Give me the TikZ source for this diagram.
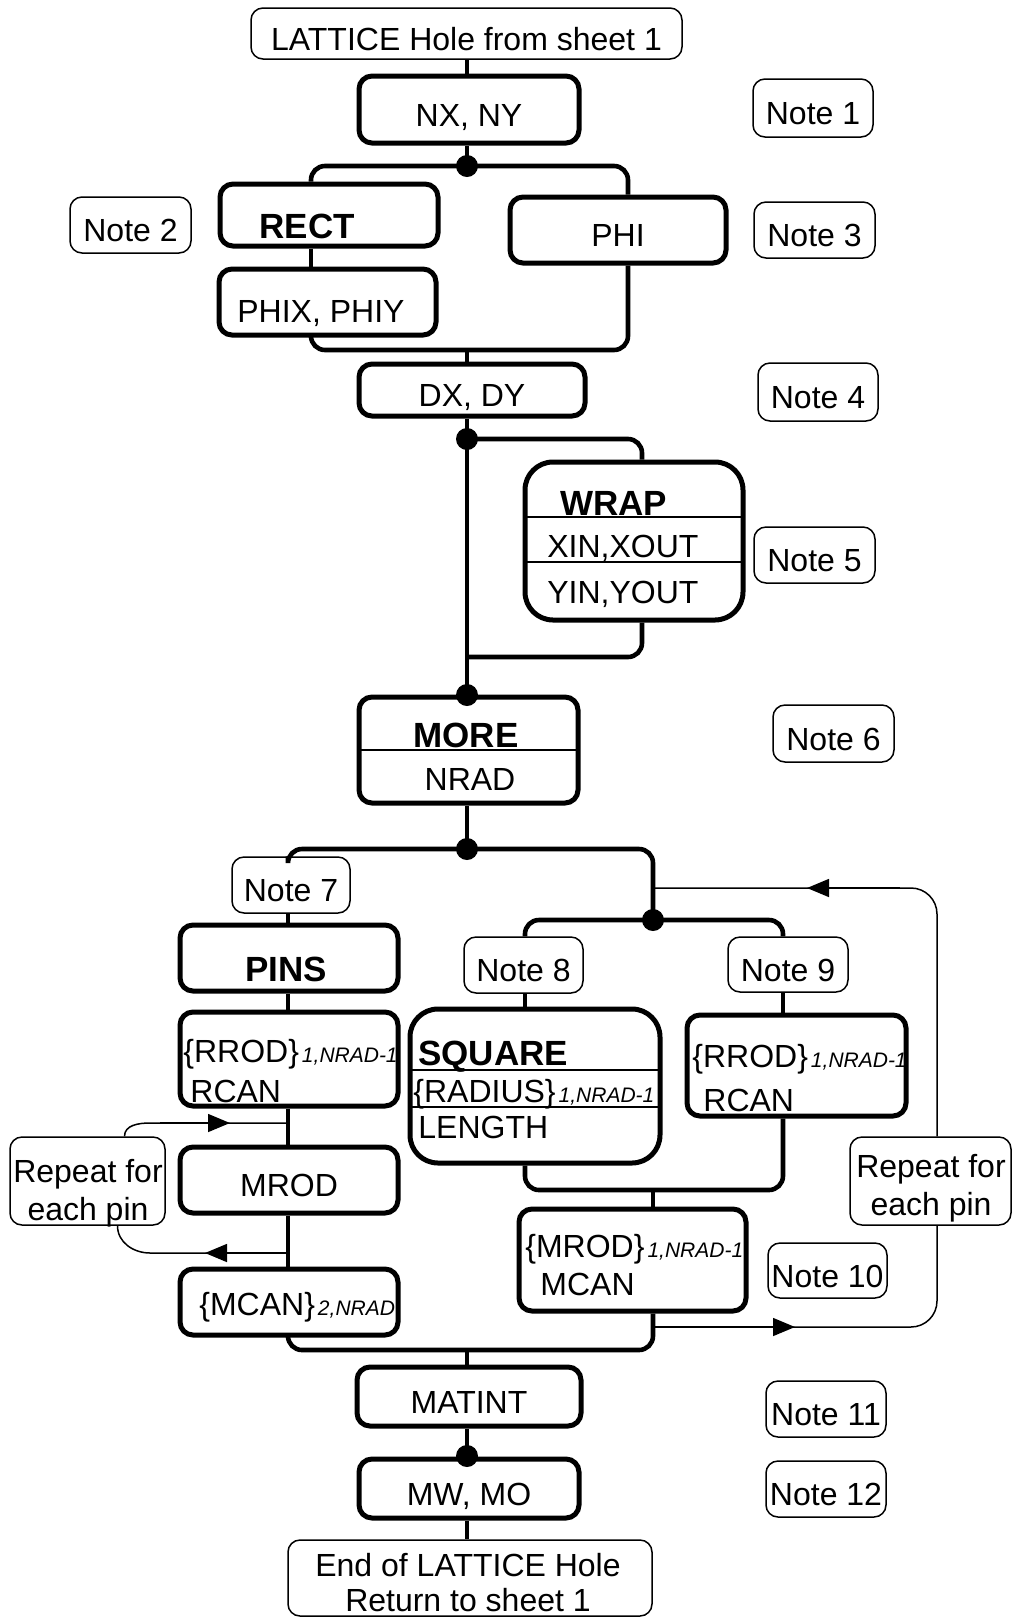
\documentclass[tikz,border=0pt]{standalone}
\usepackage{fontspec}
\setmainfont{Liberation Sans}
\usetikzlibrary{positioning, arrows.meta, calc}

\newcommand{\subtag}[1]{\kern1.5pt{\fontsize{10.5pt}{12pt}\selectfont\itshape #1}}

\begin{document}
\begin{tikzpicture}[
                x=0.5pt, y=-0.5pt,
                font=\fontsize{16pt}{19pt}\selectfont,
                blk/.style={draw, line width=2.5pt, rounded corners=6.5pt, inner sep=0pt, text height=16.5pt, text depth=0pt},
                bigblk/.style={blk, rounded corners=14pt},
                note/.style={draw, line width=0.75pt, rounded corners=6pt, inner sep=0pt, text height=16.5pt, text depth=0pt},
                txt/.style={inner sep=0pt, anchor=base west},
                two/.style={inner sep=0pt, align=center},
                hd/.style={inner sep=0pt, font=\fontsize{17.5pt}{20pt}\selectfont\bfseries},
                conn/.style={line width=2.3pt, rounded corners=7pt},
                sep/.style={line width=0.7pt},
                back/.style={line width=0.75pt},
                tip/.style={-{Triangle[length=11pt,width=9pt]}},
                dot/.style={circle, fill, inner sep=0pt, minimum size=11pt}
            ]
                \useasboundingbox (0,0) rectangle (1012,1619);

                % Columns and junctions
                \coordinate (cS) at (467,0);
                \coordinate (cA) at (311,0);
                \coordinate (cB) at (628,0);
                \coordinate (cW) at (642,0);
                \coordinate (cP) at (288,0);
                \coordinate (cQ) at (653,0);
                \coordinate (cR) at (525,0);
                \coordinate (cT) at (783,0);
                \coordinate (m1) at (467,350);
                \coordinate (m2) at (467,657);
                \coordinate (m3) at (653,1190);
                \coordinate (m4) at (467,1350);

                % Main column
                \node[note, minimum width=215.5pt, minimum height=25.5pt] (lattice) at (466.5,33.5) {LATTICE Hole from sheet 1};
                \node[blk, minimum width=110pt, minimum height=33.5pt] (nxny) at (469,109.5) {NX, NY};
                \node[blk, minimum width=109pt, minimum height=31pt] (rect) at (329,215) {};
                \node[hd, anchor=base west] (rectT) at (259,238) {RECT};
                \node[blk, minimum width=108.5pt, minimum height=33pt] (phix) at (327.5,302) {};
                \node[txt] (phixT) at (237,322) {PHIX, PHIY};
                \node[blk, minimum width=108pt, minimum height=33pt] (phi) at (618,230) {PHI};
                \node[blk, minimum width=113pt, minimum height=26pt] (dxdy) at (472,390) {DX, DY};

                \node[bigblk, minimum width=109pt, minimum height=79pt] (wrap) at (634,541) {};
                \node[hd, anchor=base west] (wrapT) at (560,515) {WRAP};
                \node[txt] (xin) at (547,557) {XIN,XOUT};
                \node[txt] (yin) at (547,603) {YIN,YOUT};
                \draw[sep] (525,517) -- (743,517);
                \draw[sep] (525,562) -- (743,562);

                \node[blk, minimum width=109.5pt, minimum height=53pt] (more) at (468.5,750) {};
                \node[hd, anchor=base] (moreT) at (466,747) {MORE};
                \node[inner sep=0pt, anchor=base] (nrad) at (470,790) {NRAD};
                \draw[sep] (359,750) -- (578,750);

                % Pins branch
                \node[note, minimum width=59pt, minimum height=28pt] (note7) at (291,885) {Note 7};
                \node[blk, minimum width=109pt, minimum height=33pt] (pins) at (289,958) {};
                \node[hd, anchor=base] (pinsT) at (286,981) {PINS};
                \node[blk, minimum width=109pt, minimum height=47pt] (rrod1) at (289,1059) {};
                \node[txt] (rrod1T) at (183,1062) {\{RROD\}\subtag{1,NRAD-1}};
                \node[txt] (rcan1) at (190,1102) {RCAN};
                \node[blk, minimum width=109pt, minimum height=33pt] (mrod1) at (289,1180) {MROD};
                \node[blk, minimum width=109pt, minimum height=33pt] (mcan1) at (289,1302) {};
                \node[txt] (mcan1T) at (199,1315) {\{MCAN\}\subtag{2,NRAD}};
                \node[note, minimum width=77.5pt, minimum height=44pt] (rep1) at (87.5,1181) {};
                \node[two] (rep1T) at (88,1193) {Repeat for\\each pin};

                % Square and rod branches
                \node[note, minimum width=59.5pt, minimum height=28pt] (note8) at (523.5,965) {Note 8};
                \node[bigblk, minimum width=125pt, minimum height=77pt] (square) at (535,1086) {};
                \node[hd, anchor=base west] (squareT) at (418,1065) {SQUARE};
                \node[txt] (radius) at (413,1102) {\{RADIUS\}\subtag{1,NRAD-1}};
                \node[txt] (length) at (418,1138) {LENGTH};
                \draw[sep] (410,1070) -- (660,1070);
                \draw[sep] (410,1107) -- (660,1107);
                \node[note, minimum width=60pt, minimum height=27.5pt] (note9) at (788,964.5) {Note 9};
                \node[blk, minimum width=109.5pt, minimum height=50.5pt] (rrod2) at (796.5,1065.5) {};
                \node[txt] (rrod2T) at (692,1067) {\{RROD\}\subtag{1,NRAD-1}};
                \node[txt] (rcan2) at (703,1111) {RCAN};
                \node[blk, minimum width=113.5pt, minimum height=51pt] (mrod2) at (632.5,1260) {};
                \node[txt] (mrod2T) at (525,1257) {\{MROD\}\subtag{1,NRAD-1}};
                \node[txt] (mcan2) at (540,1295) {MCAN};
                \node[note, minimum width=80.5pt, minimum height=44pt] (rep2) at (930.5,1181) {};
                \node[two] (rep2T) at (931,1188) {Repeat for\\each pin};
                \node[note, minimum width=59.5pt, minimum height=27.5pt] (note10) at (827.5,1270.5) {Note 10};

                % Tail
                \node[blk, minimum width=112pt, minimum height=29.5pt] (matint) at (469,1396.5) {MATINT};
                \node[blk, minimum width=110pt, minimum height=29.5pt] (mwmo) at (469,1488.5) {MW, MO};
                \node[note, minimum width=182pt, minimum height=38pt] (endbox) at (470,1578) {};
                \node[two, font=\fontsize{16pt}{17.5pt}\selectfont] (endT) at (468,1583) {End of LATTICE Hole\\Return to sheet 1};

                % Notes
                \node[note, minimum width=60pt, minimum height=29pt] (note1) at (813,108) {Note 1};
                \node[note, minimum width=60.5pt, minimum height=28pt] (note2) at (130.5,225) {Note 2};
                \node[note, minimum width=60.5pt, minimum height=28pt] (note3) at (814.5,230) {Note 3};
                \node[note, minimum width=60pt, minimum height=29pt] (note4) at (818,392) {Note 4};
                \node[note, minimum width=60.5pt, minimum height=28pt] (note5) at (814.5,555) {Note 5};
                \node[note, minimum width=60.5pt, minimum height=28.5pt] (note6) at (833.5,733.5) {Note 6};
                \node[note, minimum width=60pt, minimum height=28pt] (note11) at (826,1409) {Note 11};
                \node[note, minimum width=60pt, minimum height=28pt] (note12) at (826,1489) {Note 12};

                % Junction dots
                \node[dot] (d1) at (467,166) {};
                \node[dot] (d2) at (467,439) {};
                \node[dot] (d3) at (467,695) {};
                \node[dot] (d4) at (467,849) {};
                \node[dot] (d5) at (653,920) {};
                \node[dot] (d6) at (467,1456) {};

                % Path connections
                \draw[conn] (lattice.south -| cS) -- (nxny.north -| cS);
                \draw[conn] (nxny.south -| cS) -- (d1.center);
                \draw[conn] (d1.center) -| (rect.north -| cA);
                \draw[conn] (d1.center) -| (phi.north -| cB);
                \draw[conn] (rect.south -| cA) -- (phix.north -| cA);
                \draw[conn] (phix.south -| cA) |- (m1) -| (phi.south -| cB);
                \draw[conn] (m1) -- (dxdy.north -| cS);
                \draw[conn] (dxdy.south -| cS) -- (d3.center);
                \draw[conn] (d2.center) -| (wrap.north -| cW);
                \draw[conn] (wrap.south -| cW) |- (m2);
                \draw[conn] (more.south -| cS) -- (d4.center);
                \draw[conn] (d4.center) -| (note7.north -| cP);
                \draw[conn] (d4.center) -| (d5.center);
                \draw[conn] (note7.south -| cP) -- (pins.north -| cP);
                \draw[conn] (pins.south -| cP) -- (rrod1.north -| cP);
                \draw[conn] (rrod1.south -| cP) -- (mrod1.north -| cP);
                \draw[conn] (mrod1.south -| cP) -- (mcan1.north -| cP);
                \draw[conn] (d5.center) -| (note8.north -| cR);
                \draw[conn] (d5.center) -| (note9.north -| cT);
                \draw[conn] (note8.south -| cR) -- (square.north -| cR);
                \draw[conn] (note9.south -| cT) -- (rrod2.north -| cT);
                \draw[conn] (square.south -| cR) |- (m3) -| (rrod2.south -| cT);
                \draw[conn] (m3) -- (mrod2.north -| cQ);
                \draw[conn] (mcan1.south -| cP) |- (m4) -| (mrod2.south -| cQ);
                \draw[conn] (m4) -- (matint.north -| cS);
                \draw[conn] (matint.south -| cS) -- (d6.center);
                \draw[conn] (mwmo.south -| cS) -- (endbox.north -| cS);

                % Repeat loops
                \coordinate (l1) at (288,1123);
                \coordinate (l2) at (288,1253);
                \coordinate (r1) at (653,888);
                \coordinate (r2) at (653,1327);
                \draw[back] (l2) -- (150,1253) to[out=180, in=-90] ([xshift=15pt]rep1.south);
                \draw[back, tip] (l2) -- (205,1253);
                \draw[back] ([xshift=18.5pt]rep1.north) to[out=90, in=180] (150,1123) -- (l1);
                \draw[back, tip] (160,1123) -- (230,1123);
                \draw[back, rounded corners=13pt] (r2) -| ([xshift=3.25pt]rep2.south);
                \draw[back, tip] (r2) -- (795,1327);
                \draw[back, rounded corners=13pt] ([xshift=3.25pt]rep2.north) |- (r1);
                \draw[back, tip] (900,888) -- (807,888);
            \end{tikzpicture}
\end{document}
